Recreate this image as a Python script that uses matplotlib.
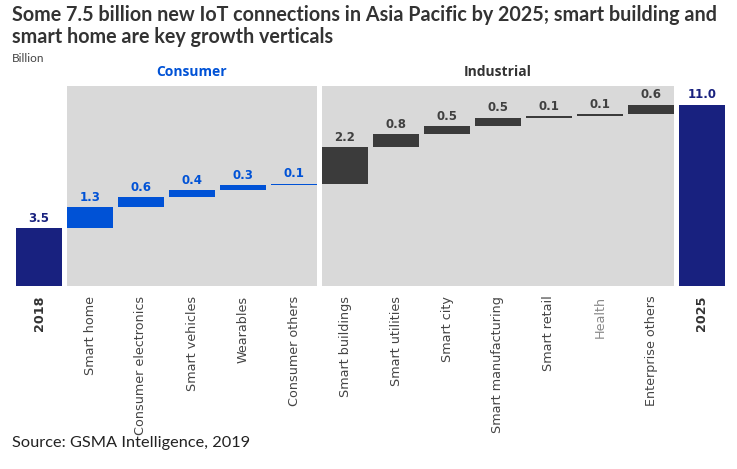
import numpy as np
import matplotlib.pyplot as plt

# Kategorien und Werte (Mrd. Verbindungen)
categories = ["2018", "Smart home", "Consumer electronics", "Smart vehicles", "Wearables",
              "Consumer others", "Smart buildings", "Smart utilities", "Smart city",
              "Smart manufacturing", "Smart retail", "Health", "Enterprise others", "2025"]
values = [3.5, 1.3, 0.6, 0.4, 0.3, 0.1, 2.2, 0.8, 0.5, 0.5, 0.1, 0.1, 0.6, 11.0]
groups = ["total", "consumer", "consumer", "consumer", "consumer", "consumer",
          "industrial", "industrial", "industrial", "industrial", "industrial", "industrial",
          "industrial", "total"]

navy = "#18217f"
blue = "#0052d6"
dark = "#3b3b3b"
gray_bg = "#d9d9d9"
colors = {"total": navy, "consumer": blue, "industrial": dark}
label_colors = {"total": navy, "consumer": blue, "industrial": "#404040"}

fig = plt.figure(figsize=(7.37, 4.69), dpi=100)
ax = fig.add_axes([13.5 / 737, 1 - 286 / 469, 714 / 737, 200 / 469])

x = np.arange(len(categories))
w = 0.9

# Wasserfall: Start und Ende der Balken
bottoms = []
running = 0
for i, v in enumerate(values):
    if groups[i] == "total":
        bottoms.append(0)
        running = v
    else:
        bottoms.append(running)
        running += v

ytop = 200 / 16.5

# grauer Hintergrund der Gruppen
ax.bar(3, ytop, width=5 - 1 + w, bottom=0, color=gray_bg, zorder=0)
ax.bar(9, ytop, width=7 - 1 + w, bottom=0, color=gray_bg, zorder=0)

for i, v in enumerate(values):
    ax.bar(x[i], v, width=w, bottom=bottoms[i], color=colors[groups[i]], zorder=2)
    ax.text(x[i], bottoms[i] + v + 0.2, f"{v:.1f}", ha="center", va="bottom",
            fontsize=8.5, fontweight="bold", color=label_colors[groups[i]],
            family="DejaVu Sans", zorder=3)

ax.set_xlim(-0.5, 13.5)
ax.set_ylim(0, ytop)
ax.set_xticks(x)
ax.set_xticklabels(categories, rotation=90, fontsize=9.2, family="DejaVu Sans", color="#444444", va="top")
for i, t in enumerate(ax.get_xticklabels()):
    if groups[i] == "total":
        t.set_fontweight("bold")
        t.set_color("#333333")
    if categories[i] == "Health":
        t.set_color("#888888")
ax.tick_params(axis="x", length=0, pad=7)
ax.set_yticks([])
for s in ax.spines.values():
    s.set_visible(False)

# Gruppenüberschriften
ax.text(3, ytop + 0.45, "Consumer", ha="center", va="bottom", fontsize=10,
        fontweight="bold", color=blue, family="Open Sans")
ax.text(9, ytop + 0.45, "Industrial", ha="center", va="bottom", fontsize=10,
        fontweight="bold", color="#333333", family="Open Sans")

fig.text(12 / 737, 1 - 5 / 469,
         "Some 7.5 billion new IoT connections in Asia Pacific by 2025; smart building and\nsmart home are key growth verticals",
         ha="left", va="top", fontsize=14.2, fontweight="bold", color="#333333",
         family="Lato", linespacing=1.12)
fig.text(12 / 737, 1 - 59 / 469, "Billion", ha="left", va="center", fontsize=8.5,
         color="#444444", family="Lato")
fig.text(12 / 737, 1 - 443 / 469, "Source: GSMA Intelligence, 2019", ha="left", va="center",
         fontsize=11.8, color="#222222", family="Lato")

fig.savefig("out.png", dpi=100)
